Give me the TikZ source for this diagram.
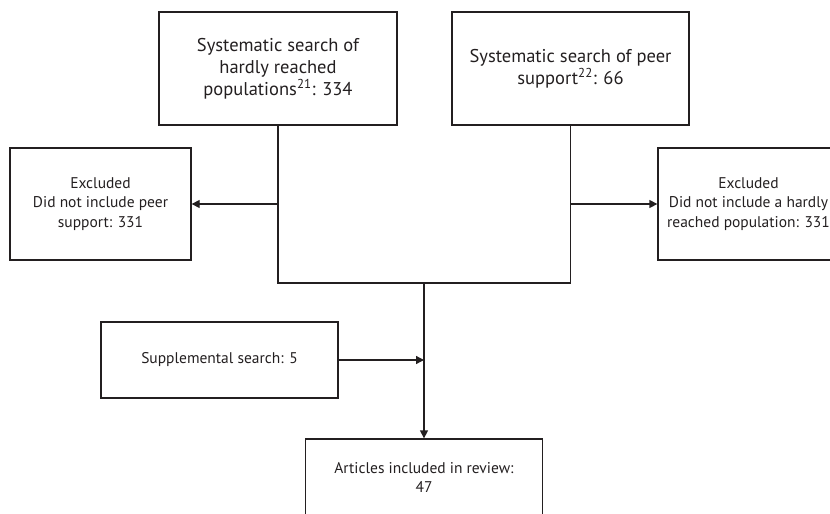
\documentclass[tikz,border=0pt]{standalone}
\usepackage{fontspec}
\setmainfont{PT Sans}
\usetikzlibrary{arrows.meta}
\definecolor{ink}{HTML}{231F20}

\begin{document}
\begin{tikzpicture}[x=1pt,y=-1pt,
    box/.style={draw=ink,line width=1.3pt,align=center,text=ink,inner sep=0pt},
    bigbox/.style={box,font=\fontsize{18.5}{22}\selectfont},
    smallbox/.style={box,font=\fontsize{15.5}{19.5}\selectfont},
    link/.style={draw=ink,line width=1.3pt},
    arr/.style={link,-{Triangle[length=8pt,width=8pt]}}]
  \useasboundingbox (0,0) rectangle (830,514);
  \clip (0,0) rectangle (830,514);

  % Searches
  \node[bigbox,minimum width=238pt,minimum height=113pt] (hrp) at (278,68.5)
    {Systematic search of\\hardly reached\\populations\textsuperscript{21}: 334};
  \node[bigbox,minimum width=237pt,minimum height=113pt] (peer) at (570.5,68.5)
    {Systematic search of peer\\support\textsuperscript{22}: 66};

  % Exclusions
  \node[smallbox,minimum width=181pt,minimum height=112pt] (exleft) at (100.5,204)
    {Excluded\\Did not include peer\\support: 331};
  \node[smallbox,minimum width=181pt,minimum height=112pt] (exright) at (748.5,204)
    {Excluded\\Did not include a hardly\\reached population: 331};

  % Supplemental and result
  \node[smallbox,minimum width=237pt,minimum height=76pt] (supp) at (219.5,360)
    {Supplemental search: 5};
  \node[smallbox,minimum width=237pt,minimum height=77pt] (incl) at (424,477.5)
    {Articles included in review:\\47};

  % Connectors
  \coordinate (jn) at (424,283);
  \draw[link] (hrp.south) |- (jn) -| (peer.south);
  \draw[arr] (hrp.south |- exleft.east) -- (exleft.east);
  \draw[arr] (peer.south |- exright.west) -- (exright.west);
  \draw[arr] (supp.east) -- (jn |- supp.east);
  \draw[arr] (jn) -- (incl.north);
\end{tikzpicture}
\end{document}
